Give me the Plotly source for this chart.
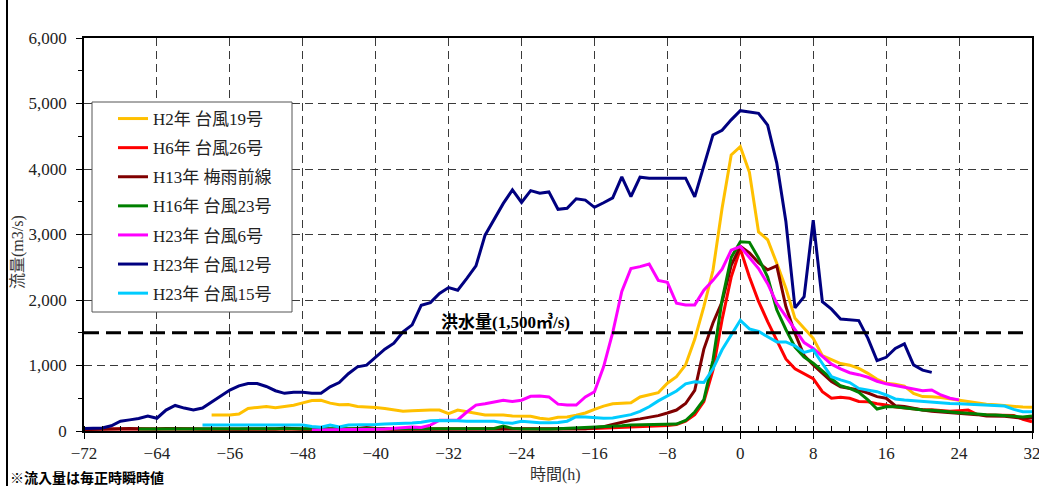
import plotly.graph_objects as go

# Hourly inflow (m3/s), each event aligned so that hour 0 is its peak.
h2_t19_start = -58
h2_t19 = [
    245, 245, 245, 260, 345, 360, 372, 355, 372, 392,
    430, 465, 468, 425, 400, 405, 375, 372, 360, 345,
    320, 300, 310, 320, 320, 320, 265, 320, 295, 270,
    245, 244, 244, 230, 230, 225, 195, 180, 209, 214,
    240, 275, 330, 380, 415, 422, 430, 520, 555, 585,
    730, 830, 1010, 1400, 1900, 2450, 3400, 4215, 4340, 3950,
    3040, 2920, 2560, 2180, 1720, 1560, 1415, 1150, 1090, 1030,
    1005, 955, 880, 790, 730, 715, 685, 575, 525, 524,
    510, 490, 460, 445, 430, 410, 400, 385, 372, 365,
    362,
]

h6_t26_start = -72
h6_t26 = [
    30, 30, 35, 35, 40, 40, 35, 35, 30, 30,
    30, 30, 30, 25, 25, 30, 30, 30, 30, 30,
    30, 30, 30, 30, 30, 30, 35, 35, 35, 35,
    35, 35, 30, 30, 30, 30, 30, 30, 30, 30,
    30, 30, 30, 30, 30, 30, 30, 30, 30, 30,
    30, 30, 30, 30, 30, 35, 40, 45, 50, 55,
    60, 65, 70, 75, 85, 100, 150, 250, 450, 930,
    1700, 2350, 2780, 2350, 1980, 1670, 1390, 1100, 950, 870,
    800, 600, 500, 514, 499, 450, 445, 415, 397, 365,
    350, 335, 325, 325, 310, 300, 310, 320, 250, 245,
    240, 240, 235, 180, 140,
]

h13_baiu_start = -72
h13_baiu = [
    20, 25, 30, 35, 40, 40, 35, 30, 30, 40,
    35, 30, 30, 30, 30, 25, 25, 25, 30, 30,
    30, 30, 45, 30, 25, 25, 25, 25, 25, 25,
    40, 55, 40, 30, 25, 25, 25, 25, 25, 25,
    25, 25, 25, 25, 25, 25, 30, 30, 25, 25,
    25, 25, 25, 25, 25, 35, 50, 65, 100, 135,
    165, 185, 210, 235, 275, 320, 420, 620, 1250, 1650,
    1970, 2530, 2820, 2720, 2570, 2460, 2520, 1900, 1490, 1150,
    1010, 890, 755, 675, 650, 625, 580, 525, 500, 385,
    375, 345, 320, 300, 290, 285, 280, 270, 250, 230,
    228, 224, 210, 195, 200,
]

h16_t23_start = -66
h16_t23 = [
    30, 30, 30, 30, 30, 30, 30, 30, 35, 30,
    30, 30, 30, 30, 30, 30, 30, 30, 30, 30,
    30, 30, 30, 30, 35, 40, 35, 30, 30, 30,
    30, 30, 30, 30, 30, 30, 30, 30, 30, 40,
    75, 40, 35, 30, 30, 30, 35, 40, 50, 55,
    56, 65, 76, 80, 90, 92, 92, 92, 100, 105,
    160, 290, 480, 1080, 2000, 2650, 2890, 2880, 2640, 2350,
    1850, 1550, 1280, 1130, 1035, 910, 800, 690, 650, 590,
    475, 335, 370, 370, 350, 330, 320, 315, 300, 290,
    280, 270, 255, 250, 245, 240, 225, 215, 230,
]

h23_t6_start = -47
h23_t6 = [
    15, 15, 20, 20, 20, 25, 25, 25, 30, 40,
    50, 60, 55, 90, 165, 168, 168, 290, 395, 415,
    440, 470, 450, 470, 530, 535, 520, 410, 397, 397,
    520, 600, 980, 1500, 2130, 2480, 2510, 2550, 2300, 2270,
    1950, 1925, 1925, 2150, 2300, 2470, 2760, 2815, 2650, 2480,
    2250, 1950, 1750, 1540, 1350, 1260, 1140, 1020, 950, 890,
    860, 820, 760, 720, 695, 670, 645, 615, 626, 550,
    500, 475,
]

h23_t12_start = -72
h23_t12 = [
    40, 45, 45, 80, 150, 170, 190, 230, 195, 320,
    390, 350, 320, 350, 440, 535, 625, 690, 725, 725,
    680, 615, 575, 590, 590, 575, 575, 675, 740, 875,
    980, 1005, 1135, 1250, 1340, 1515, 1620, 1920, 1960, 2100,
    2190, 2150, 2330, 2520, 2990, 3240, 3475, 3680, 3490, 3670,
    3630, 3650, 3385, 3400, 3545, 3525, 3415, 3485, 3560, 3880,
    3580, 3875, 3860, 3860, 3860, 3860, 3860, 3575, 4040, 4520,
    4590, 4750, 4890, 4870, 4850, 4670, 4090, 3200, 1880, 2050,
    3220, 1975, 1860, 1710, 1695, 1685, 1415, 1075, 1125, 1260,
    1330, 1010, 930, 895,
]

h23_t15_start = -59
h23_t15 = [
    92, 92, 92, 92, 92, 92, 92, 92, 92, 92,
    92, 92, 70, 56, 90, 60, 92, 92, 95, 100,
    107, 110, 115, 122, 135, 155, 160, 163, 155, 148,
    148, 148, 148, 125, 120, 148, 135, 127, 127, 130,
    150, 219, 215, 205, 195, 200, 225, 250, 300, 370,
    460, 540, 610, 720, 750, 740, 950, 1240, 1470, 1690,
    1560, 1520, 1440, 1360, 1360, 1300, 1200, 1237, 1030, 830,
    780, 740, 650, 630, 600, 550, 490, 475, 463, 445,
    433, 425, 420, 415, 410, 405, 397, 390, 380, 330,
    295, 295,
]

series_names = [
    "H2年 台風19号", "H6年 台風26号", "H13年 梅雨前線", "H16年 台風23号",
    "H23年 台風6号", "H23年 台風12号", "H23年 台風15号",
]
series_starts = [h2_t19_start, h6_t26_start, h13_baiu_start, h16_t23_start,
                 h23_t6_start, h23_t12_start, h23_t15_start]
series_values = [h2_t19, h6_t26, h13_baiu, h16_t23, h23_t6, h23_t12, h23_t15]
series_colors = ["#FFC000", "#FF0000", "#800000", "#008000",
                 "#FF00FF", "#000080", "#00CCFF"]

flood_level = 1500
flood_label = "洪水量(1,500㎥/s)"
x_range = [-72, 32]
y_range = [0, 6000]

SERIF = "'Liberation Serif', 'Noto Sans CJK JP', serif"
GOTHIC = "'Noto Sans CJK JP', sans-serif"

fig = go.Figure()
for name, start, vals, color in zip(series_names, series_starts, series_values, series_colors):
    hours = list(range(start, start + len(vals)))
    fig.add_trace(go.Scatter(
        x=hours, y=vals, mode="lines", name=name, legendgroup=name,
        line=dict(color=color, width=3),
    ))

# plot frame coordinates in pixels (for paper-relative placement)
L, R, T, B = 84, 1032, 38, 431
W, H = R - L, B - T


def px_x(p):
    return (p - L) / W


def px_y(p):
    return (B - p) / H


axis_common = dict(
    showline=True, linecolor="black", linewidth=1.5, mirror=True,
    showgrid=True, gridcolor="#3a3a3a", gridwidth=1, griddash="8px,5px",
    zeroline=False, ticks="outside", tickcolor="black", ticklen=6, tickwidth=1,
    tickfont=dict(family=SERIF, size=17, color="#222"), automargin=False,
    ticklabeloverflow="allow",
)

fig.update_xaxes(range=x_range, tickmode="linear", tick0=0, dtick=8,
                 minor=dict(dtick=2, ticks="inside", ticklen=5, tickcolor="black", showgrid=False),
                 **axis_common)
fig.update_yaxes(range=y_range, tickmode="linear", tick0=0, dtick=1000, tickformat=",",
                 ticklabelstandoff=6,
                 minor=dict(dtick=500, ticks="outside", ticklen=4, tickcolor="black", showgrid=False),
                 **axis_common)

fig.add_shape(type="line", xref="x", yref="y", x0=x_range[0], x1=31.5,
              y0=flood_level, y1=flood_level,
              line=dict(color="black", width=3, dash="15px,7px"))

# legend frame
fig.add_shape(type="rect", xref="paper", yref="paper", layer="above",
              x0=px_x(92), x1=px_x(292), y0=px_y(312), y1=px_y(102),
              fillcolor="white", line=dict(color="#555555", width=1))

# outer frame edge on the left
fig.add_shape(type="line", xref="paper", yref="paper",
              x0=px_x(7), x1=px_x(7), y0=px_y(486), y1=px_y(0),
              line=dict(color="black", width=2))

fig.add_annotation(x=-25.8, y=1665, xref="x", yref="y", text="<b>" + flood_label + "</b>",
                   showarrow=False, font=dict(family=SERIF, size=17, color="black"))
fig.add_annotation(x=px_x(18), y=px_y(252), xref="paper", yref="paper", text="流量(m3/s)",
                   xanchor="center", yanchor="middle",
                   textangle=-90, showarrow=False, font=dict(family=SERIF, size=16, color="#333"))
fig.add_annotation(x=px_x(555), y=px_y(475), xref="paper", yref="paper", text="時間(h)",
                   xanchor="center", yanchor="middle",
                   showarrow=False, font=dict(family=SERIF, size=16, color="#333"))
fig.add_annotation(x=px_x(8), y=px_y(477), xref="paper", yref="paper",
                   text="<b>※流入量は毎正時瞬時値</b>", xanchor="left", yanchor="middle",
                   showarrow=False, font=dict(family=GOTHIC, size=14, color="black"))

fig.update_layout(
    width=1039, height=486,
    margin=dict(l=L, r=1039 - R, t=T, b=486 - B),
    paper_bgcolor="white", plot_bgcolor="white",
    font=dict(family=SERIF, size=16, color="black"),
    showlegend=True,
    legend=dict(x=px_x(113), y=px_y(101), xanchor="left", yanchor="top",
                bgcolor="rgba(0,0,0,0)", borderwidth=0, tracegroupgap=4,
                itemwidth=30, font=dict(family=SERIF, size=17, color="#222")),
)

fig.write_html("out.html", post_script="document.body.style.margin='0';")
